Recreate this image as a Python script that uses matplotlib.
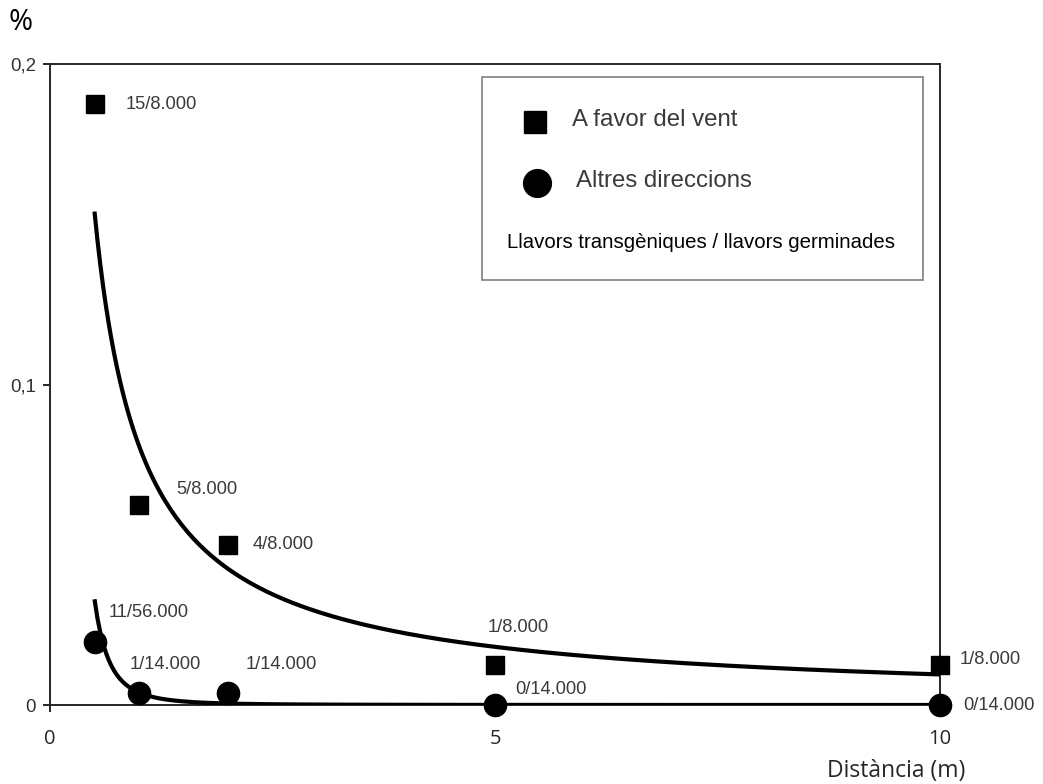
import numpy as np
import matplotlib
matplotlib.use("Agg")
import matplotlib.pyplot as plt
from matplotlib.lines import Line2D
from matplotlib.patches import Rectangle

# ---- data (percent of transgenic seeds) ----
dist_wind = [0.5, 1, 2, 5, 10]
pct_wind = [0.1875, 0.0625, 0.05, 0.0125, 0.0125]
labels_wind = ["15/8.000", "5/8.000", "4/8.000", "1/8.000", "1/8.000"]

dist_other = [0.5, 1, 2, 5, 10]
pct_other = [0.0196, 0.0037, 0.0037, 0.0, 0.0]
labels_other = ["11/56.000", "1/14.000", "1/14.000", "0/14.000", "0/14.000"]

# trend line for "Altres direccions"
trend_other_x = [0.5, 0.58, 0.67, 0.8, 0.94, 1.12, 1.42, 1.8]
trend_other_y = [0.0307, 0.0198, 0.0140, 0.0078, 0.0047, 0.0031, 0.0016, 0.0005]

xticks = [0, 5, 10]
xticklabels = ["0", "5", "10"]
yticks = [0, 0.1, 0.2]
yticklabels = ["0", "0,1", "0,2"]

legend_labels = ["A favor del vent", "Altres direccions"]
legend_note = "Llavors transgèniques / llavors germinades"

# label offsets (pixels) relative to each point
off_wind = [(31, 0), (37, 15), (25, 0), (-7, 37), (20, 5)]
off_other = [(14, 30), (-9, 29), (18, 29), (20, 16), (23, 0)]

W, H = 1043, 784
fig = plt.figure(figsize=(W / 100, H / 100), dpi=100)
ax = fig.add_axes([50 / W, 79 / H, 890 / W, 641 / H])
ax.set_xlim(0, 10)
ax.set_ylim(0, 0.2)

spine_col = "#262626"
for s in ax.spines.values():
    s.set_color(spine_col)
    s.set_linewidth(1.4)

ax.set_xticks(xticks)
ax.set_xticklabels(xticklabels, fontfamily="Open Sans", fontsize=14.5, color="#262626")
ax.set_yticks(yticks)
ax.set_yticklabels(yticklabels, fontfamily="Liberation Sans", fontsize=13.5, color="#333333")
ax.tick_params(axis="x", direction="out", length=5, width=1.4, pad=12, color=spine_col)
ax.tick_params(axis="y", direction="out", length=5, width=1.4, pad=5, color=spine_col)

# power trend lines
xs = np.linspace(0.5, 10, 300)
b1, la1 = np.polyfit(np.log(dist_wind), np.log(pct_wind), 1)
ax.plot(xs, np.exp(la1) * xs ** b1, color="black", lw=3, zorder=3, solid_capstyle="butt")
b2, la2 = np.polyfit(np.log(trend_other_x), np.log(trend_other_y), 1)
ax.plot(xs, np.exp(la2) * xs ** b2, color="black", lw=3, zorder=3, solid_capstyle="butt")

# markers
ax.plot(dist_wind, pct_wind, ls="none", marker="s", ms=12.8, color="black",
        mec="black", zorder=5, clip_on=False)
ax.plot(dist_other, pct_other, ls="none", marker="o", ms=16, color="black",
        mec="black", zorder=5, clip_on=False)

txt_col = "#3a3a3a"
for x, y, lab, (dx, dy) in zip(dist_wind, pct_wind, labels_wind, off_wind):
    ax.annotate(lab, xy=(x, y), xytext=(dx, dy), textcoords="offset pixels",
                ha="left", va="center", fontfamily="Liberation Sans", fontsize=13.2,
                color=txt_col, annotation_clip=False)
for x, y, lab, (dx, dy) in zip(dist_other, pct_other, labels_other, off_other):
    ax.annotate(lab, xy=(x, y), xytext=(dx, dy), textcoords="offset pixels",
                ha="left", va="center", fontfamily="Liberation Sans", fontsize=13.2,
                color=txt_col, annotation_clip=False)

# axis titles
fig.text(8 / W, 1 - 22 / H, "%", ha="left", va="center", fontfamily="Open Sans",
         fontsize=21, color="black")
fig.text(965 / W, 1 - 771 / H, "Distància (m)", ha="right", va="center",
         fontfamily="Open Sans", fontsize=16.5, color="#262626")

# legend box
def fx(px):
    return px / W

def fy(py):
    return 1 - py / H

fig.patches.append(Rectangle((fx(482), fy(280)), (923 - 482) / W, (280 - 77) / H,
                             transform=fig.transFigure, facecolor="white",
                             edgecolor="#7f7f7f", lw=1.2, zorder=10))
fig.add_artist(Line2D([fx(535)], [fy(122)], marker="s", ms=15.5, color="black",
                      ls="none", transform=fig.transFigure, zorder=11))
fig.add_artist(Line2D([fx(537)], [fy(183)], marker="o", ms=20, color="black",
                      ls="none", transform=fig.transFigure, zorder=11))
fig.text(fx(572), fy(120), legend_labels[0], ha="left", va="center",
         fontfamily="Liberation Sans", fontsize=17.3, color=txt_col, zorder=12)
fig.text(fx(576), fy(181), legend_labels[1], ha="left", va="center",
         fontfamily="Liberation Sans", fontsize=17.3, color=txt_col, zorder=12)
fig.text(fx(507), fy(243), legend_note, ha="left", va="center",
         fontfamily="Liberation Sans", fontsize=14.7, color="black", zorder=12)

fig.savefig("out.png", dpi=100, facecolor="white")
